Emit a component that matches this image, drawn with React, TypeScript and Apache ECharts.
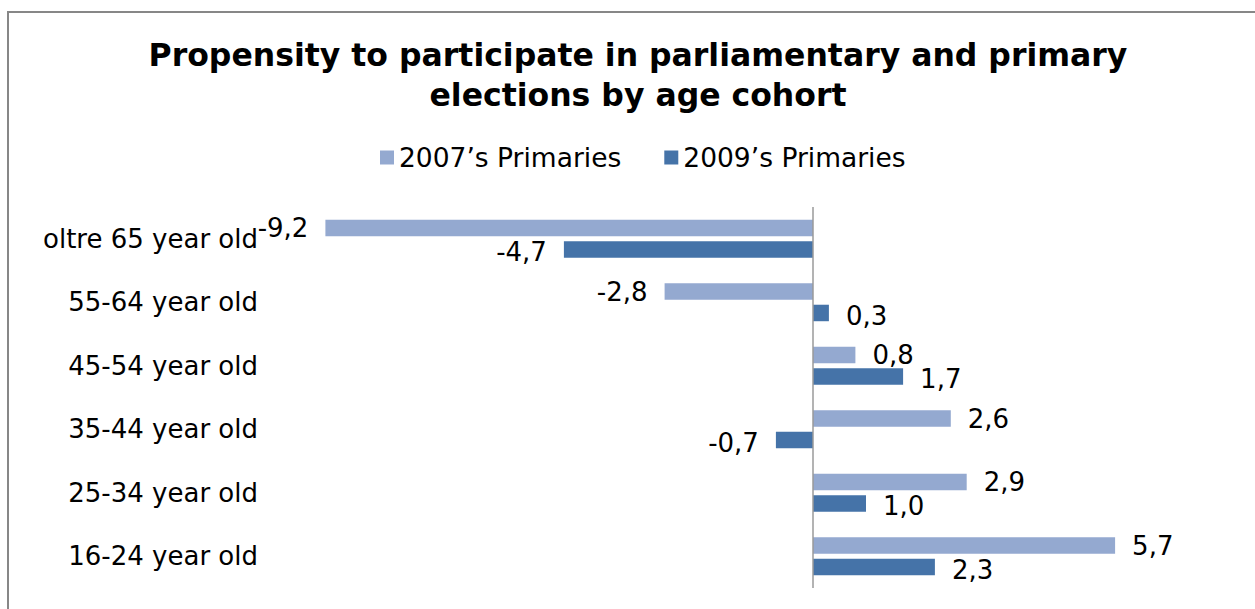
import React, { useEffect, useRef } from "react";
import * as echarts from "echarts";

const categories = [
  "oltre 65 year old",
  "55-64 year old",
  "45-54 year old",
  "35-44 year old",
  "25-34 year old",
  "16-24 year old",
];
const primaries2007 = [-9.2, -2.8, 0.8, 2.6, 2.9, 5.7];
const primaries2009 = [-4.7, 0.3, 1.7, -0.7, 1.0, 2.3];
const seriesNames = ["2007\u2019s Primaries", "2009\u2019s Primaries"];
const titleLines = [
  "Propensity to participate in parliamentary and primary",
  "elections by age cohort",
];

const FONT = "'DejaVu Sans', Verdana, sans-serif";

function fmt(v: number) {
  return v.toFixed(1).replace(".", ",");
}

function toData(values: number[], dy: number) {
  return values.map((v) => ({
    value: v,
    label: {
      position: v < 0 ? "left" : "right",
      offset: [0, dy],
    },
  }));
}

export default function App() {
  const ref = useRef<HTMLDivElement>(null);
  useEffect(() => {
    if (!ref.current) return;
    const chart = echarts.init(ref.current, undefined, { renderer: "svg" });
    const labelCommon = {
      show: true,
      distance: 17,
      fontSize: 26,
      fontFamily: FONT,
      color: "#000",
      formatter: (p: any) => fmt(p.value),
    };
    chart.setOption({
      animation: false,
      backgroundColor: "#fff",
      title: {
        text: titleLines.join("\n"),
        left: 633,
        top: 30,
        textAlign: "center",
        textStyle: {
          fontFamily: FONT,
          fontWeight: "bold",
          fontSize: 31.5,
          lineHeight: 40,
          color: "#000",
        },
      },
      legend: {
        data: seriesNames,
        left: 375,
        top: 139,
        icon: "rect",
        itemWidth: 14,
        itemHeight: 14,
        itemGap: 43,
        textStyle: { fontFamily: FONT, fontSize: 26.5, color: "#000" },
      },
      grid: { left: 283, right: 18, top: 207, bottom: 21, containLabel: false },
      xAxis: {
        type: "value",
        min: -10,
        max: 8,
        show: false,
        splitLine: { show: false },
      },
      yAxis: {
        type: "category",
        data: categories,
        inverse: true,
        axisLine: { show: false },
        axisTick: { show: false },
        splitLine: { show: false },
        axisLabel: {
          fontFamily: FONT,
          fontSize: 26,
          color: "#000",
          margin: 25,
        },
      },
      graphic: [
        {
          type: "rect",
          shape: { x: 8, y: 12, width: 1270, height: 620 },
          style: { fill: "none", stroke: "#878787", lineWidth: 2 },
          z: 100,
          silent: true,
        },
      ],
      series: [
        {
          name: seriesNames[0],
          type: "bar",
          data: toData(primaries2007, 0),
          barWidth: 16.5,
          barGap: "30%",
          itemStyle: { color: "#94A9D0" },
          label: labelCommon,
          markLine: {
            silent: true,
            symbol: "none",
            label: { show: false },
            lineStyle: { color: "#9a9a9a", type: "solid", width: 1.5 },
            data: [{ xAxis: 0 }],
          },
        },
        {
          name: seriesNames[1],
          type: "bar",
          data: toData(primaries2009, 3),
          barWidth: 16.5,
          barGap: "30%",
          itemStyle: { color: "#4573A8" },
          label: labelCommon,
        },
      ],
    });
    return () => chart.dispose();
  }, []);
  return (
    <div
      ref={ref}
      style={{ position: "fixed", left: 0, top: 0, width: 1255, height: 609 }}
    />
  );
}
